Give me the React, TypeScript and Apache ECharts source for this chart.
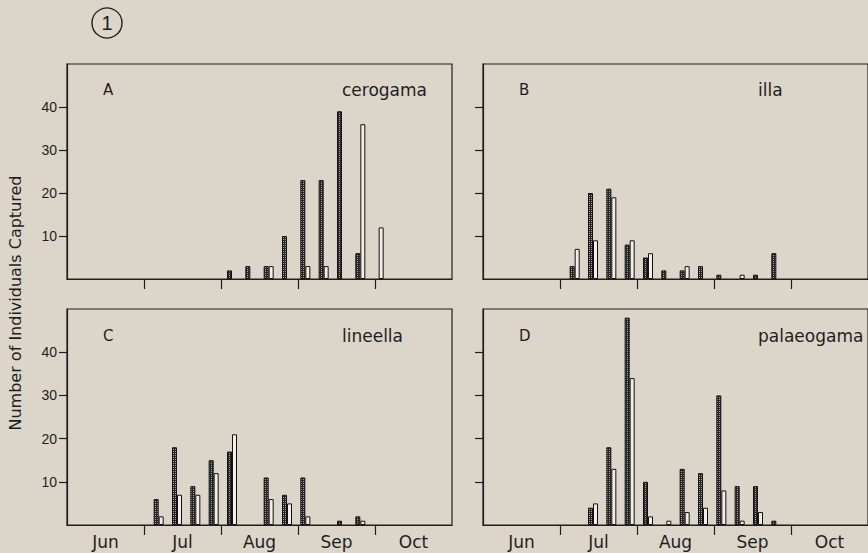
import React, { useEffect, useRef } from "react";
import * as echarts from "echarts";

// weekly sampling slots (Jun 1 .. end of Oct)
const weeks = ["0","1","2","3","4","5","6","7","8","9","10","11","12","13","14","15","16","17","18","19","20","21"];
const months = ["Jun", "Jul", "Aug", "Sep", "Oct"];
const yTicks = [10, 20, 30, 40];

// A  cerogama
const cerogamaDark  = [0,0,0,0,0,0,0,0,0,2,3,3,10,23,23,39,6,0,0,0,0,0];
const cerogamaLight = [0,0,0,0,0,0,0,0,0,0,0,3,0,3,3,0,36,12,0,0,0,0];
// B  illa
const illaDark  = [0,0,0,0,0,3,20,21,8,5,2,2,3,1,0,1,6,0,0,0,0,0];
const illaLight = [0,0,0,0,0,7,9,19,9,6,0,3,0,0,1,0,0,0,0,0,0,0];
// C  lineella
const lineellaDark  = [0,0,0,0,0,6,18,9,15,17,0,11,7,11,0,1,2,0,0,0,0,0];
const lineellaLight = [0,0,0,0,0,2,7,7,12,21,0,6,5,2,0,0,1,0,0,0,0,0];
// D  palaeogama
const palaeogamaDark  = [0,0,0,0,0,0,4,18,48,10,0,13,12,30,9,9,1,0,0,0,0,0];
const palaeogamaLight = [0,0,0,0,0,0,5,13,34,2,1,3,4,8,1,3,0,0,0,0,0,0];

const panels = [
  { letter: "A", species: "cerogama", dark: cerogamaDark, light: cerogamaLight },
  { letter: "B", species: "illa", dark: illaDark, light: illaLight },
  { letter: "C", species: "lineella", dark: lineellaDark, light: lineellaLight },
  { letter: "D", species: "palaeogama", dark: palaeogamaDark, light: palaeogamaLight },
];

const BG = "#dcd6ca";
const INK = "#1e1e1e";

export default function App() {
  const ref = useRef<HTMLDivElement>(null);
  useEffect(() => {
    if (!ref.current) return;
    const chart = echarts.init(ref.current, null, { renderer: "svg" });

    const cv = document.createElement("canvas");
    cv.width = 4; cv.height = 4;
    const ctx = cv.getContext("2d")!;
    ctx.fillStyle = "#262626"; ctx.fillRect(0, 0, 4, 4);
    ctx.fillStyle = "#a9a49a";
    ctx.fillRect(1, 1, 1, 1); ctx.fillRect(3, 3, 1, 1);
    ctx.fillRect(1, 3, 1, 1); ctx.fillRect(3, 1, 1, 1);
    const darkFill: any = { image: cv, repeat: "repeat" };

    const geo = [
      { left: 67, top: 64, width: 385, height: 215 },
      { left: 483, top: 64, width: 388, height: 215 },
      { left: 67, top: 309, width: 385, height: 216 },
      { left: 483, top: 309, width: 388, height: 216 },
    ];

    const grid: any[] = [];
    const xAxis: any[] = [];
    const yAxis: any[] = [];
    const series: any[] = [];
    const graphic: any[] = [];

    panels.forEach((p, g) => {
      const isLeft = g % 2 === 0;
      const isBottom = g >= 2;
      grid.push({ ...geo[g], show: true, borderColor: INK, borderWidth: 1.2, backgroundColor: "transparent" });
      // weekly axis for bars
      const weekIdx = xAxis.length;
      xAxis.push({ type: "category", gridIndex: g, position: "bottom", data: weeks, boundaryGap: false, show: false });
      // month boundary ticks
      xAxis.push({
        type: "value", gridIndex: g, position: "bottom", min: 0, max: 5, interval: 1,
        axisLine: { show: true, lineStyle: { color: INK, width: 1.2 } },
        axisTick: { show: true, customValues: [1, 2, 3, 4], length: 10, lineStyle: { color: INK, width: 1.2 } },
        axisLabel: { show: false }, splitLine: { show: false },
      });
      // month labels
      xAxis.push({
        type: "category", gridIndex: g, position: "bottom", data: months, boundaryGap: true,
        axisLine: { show: false }, axisTick: { show: false },
        axisLabel: { show: isBottom, margin: 8, color: INK, fontSize: 17, fontFamily: "DejaVu Sans" },
        splitLine: { show: false },
      });
      yAxis.push({
        type: "value", gridIndex: g, position: "left", min: 0, max: 50, interval: 10,
        axisLine: { show: true, lineStyle: { color: INK, width: 1.2 } },
        axisTick: { show: true, customValues: yTicks, length: 8, lineStyle: { color: INK, width: 1.2 } },
        axisLabel: { show: isLeft, customValues: yTicks, margin: 10, color: INK, fontSize: 14, fontFamily: "Liberation Sans" },
        splitLine: { show: false },
      });
      const toData = (arr: number[]) => arr.map((v) => (v > 0 ? v : null));
      series.push({
        type: "bar", xAxisIndex: weekIdx, yAxisIndex: g, data: toData(p.dark),
        barWidth: 5, barGap: "0%",
        itemStyle: { color: darkFill, borderColor: "#111", borderWidth: 1 },
      });
      series.push({
        type: "bar", xAxisIndex: weekIdx, yAxisIndex: g, data: toData(p.light),
        barWidth: 5, barGap: "0%",
        itemStyle: { color: "#f3efe6", borderColor: "#111", borderWidth: 1 },
      });
      const gx = geo[g].left;
      const cy = isBottom ? 336 : 90;
      graphic.push({
        type: "text", x: gx + 36, y: cy,
        style: { text: p.letter, fill: INK, font: "15px 'DejaVu Sans'", textAlign: "left", textVerticalAlign: "middle" },
      });
      graphic.push({
        type: "text", x: gx + 275, y: cy,
        style: { text: p.species, fill: INK, font: "17px 'DejaVu Sans'", textAlign: "left", textVerticalAlign: "middle" },
      });
    });

    graphic.push({
      type: "text", x: 15, y: 303, rotation: Math.PI / 2,
      style: { text: "Number of Individuals Captured", fill: INK, font: "16px 'DejaVu Sans'", textAlign: "center", textVerticalAlign: "middle" },
    });
    graphic.push({
      type: "circle", shape: { cx: 107, cy: 23, r: 15 },
      style: { fill: "none", stroke: INK, lineWidth: 1.4 },
    });
    graphic.push({
      type: "text", x: 107, y: 23,
      style: { text: "1", fill: INK, font: "20px 'Liberation Sans'", textAlign: "center", textVerticalAlign: "middle" },
    });

    chart.setOption({
      animation: false,
      backgroundColor: BG,
      grid, xAxis, yAxis, series, graphic,
    });
    return () => chart.dispose();
  }, []);
  return (
    <div
      ref={ref}
      style={{ position: "absolute", left: 0, top: 0, width: 868, height: 553 }}
    />
  );
}
